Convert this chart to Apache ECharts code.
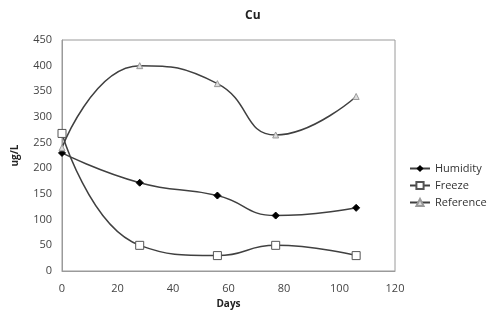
<!DOCTYPE html>
<html>
<head>
<meta charset="utf-8">
<script src="https://cdn.jsdelivr.net/npm/echarts@6/dist/echarts.min.js"></script>
<style>
  html, body { margin: 0; padding: 0; background: #fff; }
  #chart { width: 500px; height: 325px; }
</style>
</head>
<body>
<div id="chart"></div>
<script>
const days = [0, 28, 56, 77, 106];
const humidity = [230, 172, 147, 108, 123];
const freeze = [268, 50, 30, 50, 30];
const reference = [240, 400, 365, 265, 340];

const pair = (vals) => days.map((d, i) => [d, vals[i]]);

const lineColor = '#404040';
const font = 'Open Sans, DejaVu Sans, sans-serif';

const chart = echarts.init(document.getElementById('chart'));
chart.setOption({
  animation: false,
  title: {
    text: 'Cu',
    left: 240,
    top: 5,
    textStyle: { fontSize: 12, fontWeight: 'bold', color: '#222', fontFamily: font }
  },
  legend: {
    orient: 'vertical',
    left: 404,
    top: 158,
    itemGap: 6,
    itemWidth: 20,
    itemHeight: 9,
    textStyle: { fontSize: 11, color: '#333', fontFamily: font },
    data: ['Humidity', 'Freeze', 'Reference']
  },
  grid: { left: 62, right: 105, top: 40, bottom: 54, show: true, borderColor: '#9a9a9a', borderWidth: 1 },
  xAxis: {
    type: 'value',
    min: 0, max: 120, interval: 20,
    name: 'Days',
    nameLocation: 'middle',
    nameGap: 27,
    nameTextStyle: { fontSize: 10, fontWeight: 'bold', color: '#222', fontFamily: font },
    axisLine: { lineStyle: { color: '#9a9a9a' } },
    axisTick: { show: false },
    splitLine: { show: false },
    axisLabel: { fontSize: 11, color: '#444', margin: 12, fontFamily: font }
  },
  yAxis: {
    type: 'value',
    min: 0, max: 450, interval: 50,
    name: 'ug/L',
    nameLocation: 'middle',
    nameGap: 42,
    nameTextStyle: { fontSize: 10, fontWeight: 'bold', color: '#222', fontFamily: font },
    axisLine: { show: true, lineStyle: { color: '#9a9a9a' } },
    axisTick: { show: false },
    splitLine: { show: false },
    axisLabel: { fontSize: 11, color: '#444', margin: 10, fontFamily: font }
  },
  series: [
    {
      name: 'Humidity', type: 'line', smooth: 0.5,
      data: pair(humidity),
      symbol: 'diamond', symbolSize: 7,
      lineStyle: { color: lineColor, width: 1.5 },
      itemStyle: { color: '#000', borderColor: '#000' }
    },
    {
      name: 'Freeze', type: 'line', smooth: 0.5,
      data: pair(freeze),
      symbol: 'rect', symbolSize: 8,
      lineStyle: { color: lineColor, width: 1.5 },
      itemStyle: { color: '#fff', borderColor: '#555', borderWidth: 1 }
    },
    {
      name: 'Reference', type: 'line', smooth: 0.5,
      data: pair(reference),
      symbol: 'triangle', symbolSize: 6,
      lineStyle: { color: lineColor, width: 1.5 },
      itemStyle: { color: '#ddd', borderColor: '#999', borderWidth: 1 }
    }
  ]
});
</script>
</body>
</html>
